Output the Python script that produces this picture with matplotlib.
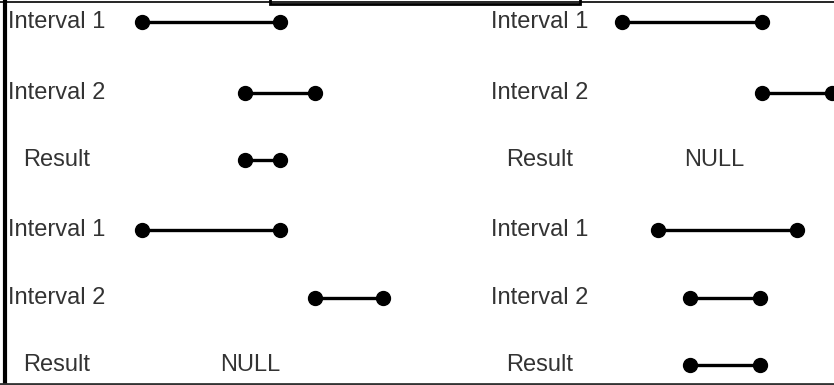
import matplotlib.pyplot as plt
from matplotlib.lines import Line2D
from matplotlib.patches import Rectangle

plt.rcParams['font.family'] = ['Liberation Sans', 'DejaVu Sans']

# rows (top to bottom) and their labels
row_labels = ["Interval 1", "Interval 2", "Result", "Interval 1", "Interval 2", "Result"]
row_y = [22, 93, 160, 230, 298, 365]

# left column intervals (start, end); None means NULL
left_starts = [142, 245, 245, 142, 315, None]
left_ends = [280, 315, 280, 280, 383, None]
# right column intervals
right_starts = [622, 762, None, 658, 690, 690]
right_ends = [762, 832, None, 797, 760, 760]

label_x = [57, 540]
null_x = [250, 714]

fig = plt.figure(figsize=(8.34, 3.85), dpi=100)
ax = fig.add_axes([0, 0, 1, 1])
ax.set_xlim(0, 834)
ax.set_ylim(385, 0)
ax.axis('off')

txt_color = '#333333'
for col, (starts, ends) in enumerate([(left_starts, left_ends), (right_starts, right_ends)]):
    for lab, y, s, e in zip(row_labels, row_y, starts, ends):
        ax.text(label_x[col], y, lab, ha='center', va='center', fontsize=17, color=txt_color)
        if s is None:
            ax.text(null_x[col], y, "NULL", ha='center', va='center', fontsize=17, color=txt_color)
        else:
            ax.plot([s, e], [y, y], color='black', lw=2.4, marker='o', markersize=10,
                    solid_capstyle='butt', clip_on=False)

# frame pieces
ax.add_line(Line2D([0, 834], [2, 2], color='black', lw=1.2))
ax.add_patch(Rectangle((270, -3), 310, 7, fill=False, edgecolor='black', lw=2))
ax.add_line(Line2D([5, 5], [0, 385], color='black', lw=3))
ax.add_line(Line2D([0, 834], [383.5, 383.5], color='#333333', lw=2))

fig.savefig('out.png', dpi=100)
